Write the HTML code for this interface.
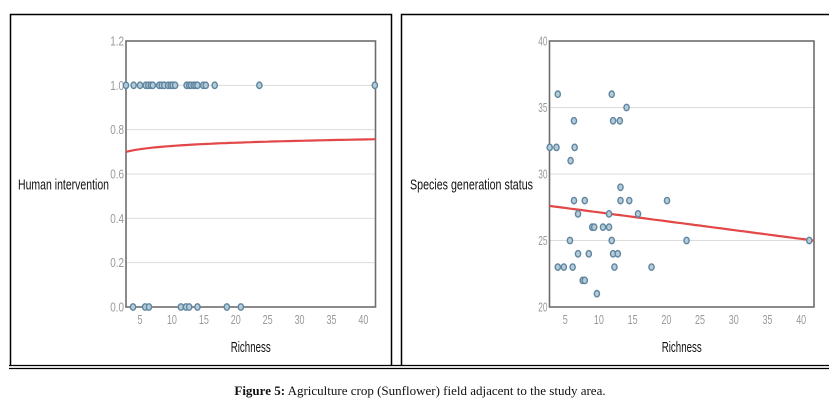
<!DOCTYPE html>
<html><head><meta charset="utf-8">
<style>
html,body{margin:0;padding:0;background:#fff;width:840px;height:405px;overflow:hidden}
svg{display:block}
.tick{font-family:"Liberation Sans",sans-serif;font-size:13px;fill:#999}
.atitle{font-family:"Liberation Sans",sans-serif;font-size:15px;fill:#111}
.cap{font-family:"Liberation Serif",serif;font-size:13px;fill:#111}
</style></head>
<body>
<svg id="fig" width="840" height="405" xmlns="http://www.w3.org/2000/svg">
  <path d="M10.5,365 V14.5 H391.5 V365" fill="none" stroke="#000" stroke-width="1.5"/>
  <path d="M401.5,365 V14.5 H829" fill="none" stroke="#000" stroke-width="1.5"/>
  <line x1="9" y1="365.5" x2="829" y2="365.5" stroke="#000" stroke-width="1.2"/>
  <line x1="9" y1="368.5" x2="829" y2="368.5" stroke="#000" stroke-width="1.2"/>
  <text class="cap" x="420" y="395" text-anchor="middle"><tspan font-weight="bold">Figure 5:</tspan>  Agriculture crop (Sunflower) field adjacent to the study area.</text>
  <g id="left"></g>
  <g id="right"></g>
</svg>
<script>
// Left chart data
const leftX1 = [2.8,4.0,5.0,5.9,6.3,6.7,7.0,8.0,8.4,8.8,9.4,9.8,10.1,10.5,12.3,12.7,13.0,13.4,13.7,14.0,14.9,15.3,16.7,23.7,41.8];
const leftX0 = [3.9,5.8,6.4,11.4,12.2,12.7,14.0,18.6,20.8];
const leftYTicks = [0.0,0.2,0.4,0.6,0.8,1.0,1.2];
const leftYTickLabels = ["0.0","0.2","0.4","0.6","0.8","1.0","1.2"];
const xTicks = [5,10,15,20,25,30,35,40];
const leftFitParams = [0.678, 0.0211]; // y = a + b*ln(x)
// Right chart data
const rightX = [3.9,2.7,3.7,6.3,6.4,5.8,6.3,7.9,6.9,5.7,6.9,3.9,4.8,6.1,7.6,7.9,8.5,9.7,9.0,9.3,10.6,11.5,11.5,11.9,12.1,12.8,12.3,11.9,12.1,13.1,14.1,13.2,13.2,14.5,15.8,17.8,20.1,23.0,41.2];
const rightY = [36,32,32,34,32,31,28,28,27,25,24,23,23,23,22,22,24,21,26,26,26,26,27,25,24,24,23,36,34,34,35,29,28,28,27,23,28,25,25];
const rightYTicks = [20,25,30,35,40];
const rightFitParams = [27.78, -0.0665];

const NS = "http://www.w3.org/2000/svg";
function mk(parent, tag, attrs){const e=document.createElementNS(NS,tag);for(const k in attrs)e.setAttribute(k,attrs[k]);parent.appendChild(e);return e;}

function drawChart(g, cfg){
  const {L,R,T,B,xmin,xmax,ymin,ymax} = cfg;
  const sx = v => L + (v-xmin)/(xmax-xmin)*(R-L);
  const sy = v => B - (v-ymin)/(ymax-ymin)*(B-T);
  cfg.yTicks.forEach((t,i)=>{
    if(t!==ymin && t!==ymax){
      const gl = mk(g,"line",{x1:L,x2:R,y1:sy(t),y2:sy(t),stroke:"#dcdcdc","stroke-width":1});
      
      
    }
    const lab = cfg.yLabels[i];
    const tx = mk(g,"text",{x:L-2,y:sy(t)+4.5,"text-anchor":"end",class:"tick",textLength:lab.length*4.6,lengthAdjust:"spacingAndGlyphs"});
    tx.textContent = lab;
    
    
  });
  xTicks.forEach(t=>{
    const lab = String(t);
    const tx = mk(g,"text",{x:sx(t),y:B+17,"text-anchor":"middle",class:"tick",textLength:lab.length*5,lengthAdjust:"spacingAndGlyphs"});
    tx.textContent = lab;
    
    
  });
  const fr = mk(g,"rect",{x:L,y:T,width:R-L,height:B-T,fill:"none",stroke:"#6d6d6d","stroke-width":1.6});
  
  
  let d="";
  for(let i=0;i<=60;i++){const x=xmin+(xmax-xmin)*i/60;d+=(i?"L":"M")+sx(x).toFixed(1)+","+sy(cfg.fit(x)).toFixed(1);}
  const fl = mk(g,"path",{d:d,fill:"none",stroke:"#e34848","stroke-width":2.2});
  
  
  cfg.pts.forEach(p=>{
    const c = mk(g,"ellipse",{cx:sx(p[0]),cy:sy(p[1]),rx:2.6,ry:3.2,fill:"#b7ccd9",stroke:"#5f86a0","stroke-width":1.4});
    
    
  });
  const xt = mk(g,"text",{x:(L+R)/2,y:352,"text-anchor":"middle",class:"atitle",textLength:40,lengthAdjust:"spacingAndGlyphs"});
  xt.textContent="Richness";
  
  
  const yt = mk(g,"text",{x:cfg.ytx,y:189.5,class:"atitle",textLength:cfg.ytl,lengthAdjust:"spacingAndGlyphs"});
  yt.textContent=cfg.yTitle;
  
  
}

const lp = leftX1.map(x=>[x,1]).concat(leftX0.map(x=>[x,0]));
drawChart(document.getElementById("left"),{L:126,R:375.5,T:41,B:307,xmin:2.8,xmax:41.9,ymin:0,ymax:1.2,
  yTicks:leftYTicks,yLabels:leftYTickLabels,pts:lp,
  fit:x=>leftFitParams[0]+leftFitParams[1]*Math.log(x),yTitle:"Human intervention",ytx:18,ytl:91});
const rp = rightX.map((x,i)=>[x,rightY[i]]);
drawChart(document.getElementById("right"),{L:549.5,R:814,T:41,B:307,xmin:2.67,xmax:41.9,ymin:20,ymax:40,
  yTicks:rightYTicks,yLabels:rightYTicks.map(String),pts:rp,
  fit:x=>rightFitParams[0]+rightFitParams[1]*x,yTitle:"Species generation status",ytx:410,ytl:123});
</script>
</body></html>
